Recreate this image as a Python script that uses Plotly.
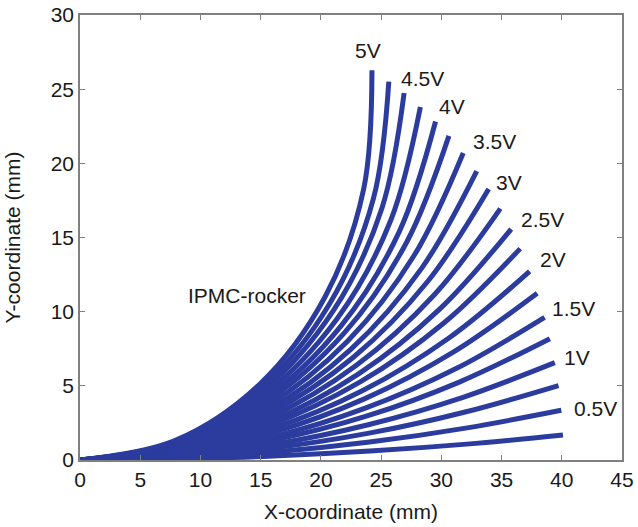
import plotly.graph_objects as go

# Voltages of the 20 traced curves (0.25 V steps)
voltages = [0.25, 0.5, 0.75, 1.0, 1.25, 1.5, 1.75, 2.0, 2.25, 2.5,
            2.75, 3.0, 3.25, 3.5, 3.75, 4.0, 4.25, 4.5, 4.75, 5.0]

# Curve coordinates (mm), one list per voltage
x_025 = [0, 8.03, 16.06, 24.08, 32.10, 40.10]
y_025 = [0, 0.07, 0.27, 0.60, 1.07, 1.68]
x_050 = [0, 8.03, 16.05, 24.05, 32.02, 39.96]
y_050 = [0, 0.13, 0.54, 1.21, 2.15, 3.35]
x_075 = [0, 8.03, 16.03, 24.00, 31.90, 39.73]
y_075 = [0, 0.20, 0.81, 1.81, 3.22, 5.02]
x_100 = [0, 8.02, 16.02, 23.93, 31.74, 39.42]
y_100 = [0, 0.27, 1.06, 2.38, 4.21, 6.56]
x_125 = [0, 8.02, 15.99, 23.84, 31.54, 39.01]
y_125 = [0, 0.33, 1.33, 2.97, 5.27, 8.18]
x_150 = [0, 8.02, 15.96, 23.74, 31.31, 38.57]
y_150 = [0, 0.39, 1.56, 3.51, 6.20, 9.62]
x_175 = [0, 8.01, 15.92, 23.61, 30.99, 37.96]
y_175 = [0, 0.46, 1.84, 4.12, 7.27, 11.24]
x_200 = [0, 8.01, 15.88, 23.48, 30.66, 37.33]
y_200 = [0, 0.53, 2.10, 4.68, 8.24, 12.71]
x_225 = [0, 8.00, 15.82, 23.30, 30.26, 36.55]
y_225 = [0, 0.59, 2.37, 5.28, 9.27, 14.25]
x_250 = [0, 7.99, 15.78, 23.13, 29.86, 35.80]
y_250 = [0, 0.66, 2.61, 5.81, 10.17, 15.57]
x_275 = [0, 7.98, 15.71, 22.92, 29.40, 34.90]
y_275 = [0, 0.72, 2.87, 6.37, 11.12, 16.95]
x_300 = [0, 7.98, 15.64, 22.70, 28.88, 33.93]
y_300 = [0, 0.79, 3.13, 6.93, 12.05, 18.27]
x_325 = [0, 7.97, 15.58, 22.48, 28.36, 32.94]
y_325 = [0, 0.85, 3.38, 7.46, 12.92, 19.48]
x_350 = [0, 7.96, 15.49, 22.21, 27.75, 31.82]
y_350 = [0, 0.92, 3.64, 8.01, 13.80, 20.70]
x_375 = [0, 7.95, 15.41, 21.93, 27.11, 30.63]
y_375 = [0, 0.99, 3.90, 8.55, 14.66, 21.85]
x_400 = [0, 7.94, 15.33, 21.66, 26.51, 29.52]
y_400 = [0, 1.05, 4.13, 9.03, 15.40, 22.82]
x_425 = [0, 7.93, 15.23, 21.36, 25.81, 28.26]
y_425 = [0, 1.12, 4.38, 9.54, 16.18, 23.80]
x_450 = [0, 7.91, 15.13, 21.02, 25.06, 26.91]
y_450 = [0, 1.19, 4.64, 10.05, 16.96, 24.74]
x_475 = [0, 7.90, 15.03, 20.70, 24.36, 25.64]
y_475 = [0, 1.25, 4.87, 10.50, 17.62, 25.51]
x_500 = [0, 7.88, 14.92, 20.34, 23.56, 24.24]
y_500 = [0, 1.31, 5.11, 10.99, 18.30, 26.27]

curves_x = [x_025, x_050, x_075, x_100, x_125, x_150, x_175, x_200, x_225, x_250,
            x_275, x_300, x_325, x_350, x_375, x_400, x_425, x_450, x_475, x_500]
curves_y = [y_025, y_050, y_075, y_100, y_125, y_150, y_175, y_200, y_225, y_250,
            y_275, y_300, y_325, y_350, y_375, y_400, y_425, y_450, y_475, y_500]

# Voltage labels and their positions (data coords)
label_text = ["5V", "4.5V", "4V", "3.5V", "3V", "2.5V", "2V", "1.5V", "1V", "0.5V"]
label_x = [23.9, 28.4, 30.9, 34.4, 35.6, 38.4, 39.3, 41.0, 41.3, 42.8]
label_y = [27.6, 25.7, 23.8, 21.5, 18.7, 16.2, 13.5, 10.2, 6.94, 3.5]

tick_vals_x = [0, 5, 10, 15, 20, 25, 30, 35, 40, 45]
tick_vals_y = [0, 5, 10, 15, 20, 25, 30]

LINE = "#2B3C9E"
FONT = "Liberation Sans, Arial, Helvetica, sans-serif"
TXT = "#1a1a1a"
FS = 21

fig = go.Figure()
for v, xs, ys in zip(voltages, curves_x, curves_y):
    fig.add_trace(go.Scatter(
        x=xs, y=ys, mode="lines", name=f"{v}V",
        line=dict(color=LINE, width=5, shape="spline"),
        showlegend=False, hoverinfo="skip"))

for t, lx, ly in zip(label_text, label_x, label_y):
    fig.add_annotation(x=lx, y=ly, text=t, showarrow=False,
                       font=dict(size=FS, color=TXT, family=FONT))

fig.add_annotation(x=13.9, y=11.1, text="IPMC-rocker", showarrow=False,
                   font=dict(size=FS, color=TXT, family=FONT))

axis_common = dict(showline=True, linecolor="#808080", linewidth=1.5, mirror="ticks",
                   ticks="inside", ticklen=5, tickcolor="#808080", tickwidth=1,
                   showgrid=False, zeroline=False, automargin=False,
                   ticklabeloverflow="allow",
                   tickfont=dict(size=FS, color=TXT, family=FONT))

fig.update_xaxes(range=[0, 45], tickvals=tick_vals_x,
                 title=dict(text="X-coordinate (mm)", standoff=14,
                            font=dict(size=FS, color=TXT, family=FONT)),
                 **axis_common)
fig.update_yaxes(range=[0, 30], tickvals=tick_vals_y,
                 title=dict(text="Y-coordinate (mm)", standoff=24,
                            font=dict(size=FS, color=TXT, family=FONT)),
                 **axis_common)

fig.update_layout(width=638, height=527,
                  margin=dict(l=80, r=16, t=15, b=67),
                  paper_bgcolor="white", plot_bgcolor="white",
                  font=dict(family=FONT))

# remove the default page margin so the figure fills the window exactly
fig.write_html("out.html",
               config={"displayModeBar": False},
               post_script="document.body.style.margin='0';document.body.style.overflow='hidden';")
